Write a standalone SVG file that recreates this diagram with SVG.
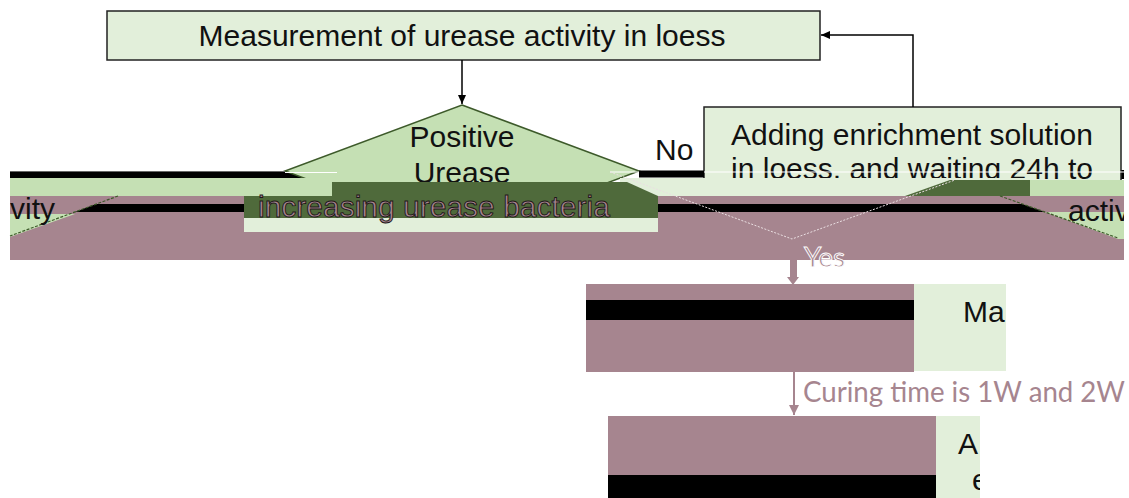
<svg xmlns="http://www.w3.org/2000/svg" width="1129" height="498" viewBox="0 0 1129 498">
<style>
.t{font-family:"Liberation Sans",Arial,sans-serif;fill:#111;font-size:30px}
.c{font-family:Lato,"Open Sans",sans-serif}
.box{fill:#e2efda;stroke:#222;stroke-width:1.5}
.lg{fill:#e2efda}
.mg{fill:#c5e0b4}
.dg{fill:#4f6a3b}
.mv{fill:#a6858f}
.bk{fill:#000}
.dash{fill:none;stroke:#3d5a2a;stroke-width:1.2;stroke-dasharray:3 1.5}
</style>
<defs>
<marker id="ab" markerWidth="10" markerHeight="10" refX="9" refY="5" orient="auto" markerUnits="userSpaceOnUse"><path d="M0,1 L9,5 L0,9 z" fill="#000"/></marker>
<marker id="am" markerWidth="12" markerHeight="12" refX="10" refY="6" orient="auto" markerUnits="userSpaceOnUse"><path d="M0,1 L10,6 L0,11 z" fill="#a6858f"/></marker>
<clipPath id="c182"><rect x="0" y="0" width="1129" height="182"/></clipPath>
<clipPath id="c180"><rect x="0" y="0" width="1129" height="180"/></clipPath>
<clipPath id="cR"><rect x="10" y="0" width="1114" height="498"/></clipPath>
<clipPath id="cMa"><rect x="914" y="284" width="92" height="88"/></clipPath>
<clipPath id="cA"><rect x="936" y="416" width="44" height="82"/></clipPath>
</defs>

<g id="band-top">
<rect class="bk" x="10" y="172" width="300" height="6"/>
<rect class="bk" x="1118" y="170" width="6" height="9"/>
</g>

<g id="node-measurement">
<rect class="box" x="107" y="11" width="713" height="49"/>
<text class="t" x="462" y="46" text-anchor="middle" font-size="30.5">Measurement of urease activity in loess</text>
</g>

<g id="node-decision" clip-path="url(#c182)">
<polygon points="462,105 639,171 462,237 285,171" fill="#c5e0b4" stroke="#3d5a2a" stroke-width="1.5"/>
<text class="t" x="462" y="147" text-anchor="middle">Positive</text>
<text class="t" x="462" y="183" text-anchor="middle">Urease</text>
</g>

<g id="node-enrichment" clip-path="url(#c180)">
<rect class="box" x="704" y="107" width="417" height="90"/>
<text class="t" x="912" y="145" text-anchor="middle">Adding enrichment solution</text>
<text class="t" x="912" y="179" text-anchor="middle">in loess, and waiting 24h to</text>
</g>

<g id="glitch-lines">
<line x1="10" y1="171.5" x2="285" y2="171.5" stroke="#666" stroke-width="1"/>
<line x1="285" y1="172.5" x2="337" y2="172.5" stroke="#fff" stroke-width="1.2"/>
<line x1="610" y1="172" x2="1124" y2="172" stroke="#fff" stroke-width="1.2"/>
</g>

<g id="glitch-band">
<rect class="mg" x="10" y="178" width="322" height="18"/>
<rect class="lg" x="620" y="178" width="410" height="18"/>
<polygon class="dg" points="332,182 627,182 658,196 332,196"/>
<polygon class="dg" points="950,180 1030,180 1030,196 905,196"/>
<rect class="mg" x="1030" y="180" width="94" height="16"/>
<rect class="mv" x="10" y="196" width="1114" height="64"/>
<polygon class="bk" points="96,204 244,204 244,212 75,212"/>
<polygon class="bk" points="658,204 1022,204 1045,212 658,212"/>
<polygon class="mg" points="10,214 75,214 10,237"/>
<polygon class="mg" points="1045,212 1124,212 1124,239 1118,239"/>
<line class="dash" x1="118" y1="196" x2="10" y2="236"/>
<line class="dash" x1="1000" y1="196" x2="1118" y2="238"/>
<polyline points="610,172 792,239 955,180" fill="none" stroke="#eadfe2" stroke-width="1" stroke-dasharray="2 1.5"/>
<g clip-path="url(#cR)">
<text class="t" x="10" y="219">vity</text>
<text class="t" x="1068" y="221">activ</text>
</g>
</g>

<g id="node-increasing">
<rect class="dg" x="244" y="196" width="414" height="22"/>
<rect class="lg" x="244" y="218" width="414" height="14"/>
<text x="258" y="217" font-family="Liberation Sans, Arial, sans-serif" font-size="30" fill="#a6858f" stroke="#1e1618" stroke-width="0.9">increasing urease bacteria</text>
</g>

<g id="node-ma">
<rect class="mv" x="586" y="284" width="328" height="88"/>
<rect class="bk" x="586" y="300" width="328" height="20"/>
<rect class="lg" x="914" y="284" width="92" height="87"/>
<g clip-path="url(#cMa)"><text class="t" x="963" y="322">Ma</text></g>
</g>

<g id="node-a">
<rect class="mv" x="608" y="416" width="328" height="82"/>
<rect class="bk" x="608" y="475" width="328" height="23"/>
<rect class="lg" x="936" y="416" width="44" height="82"/>
<g clip-path="url(#cA)"><text class="t" x="958" y="454">A</text><text class="t" x="972" y="490">e</text></g>
</g>

<g id="connectors">
<line x1="462" y1="60" x2="462" y2="104" stroke="#000" stroke-width="1.5" marker-end="url(#ab)"/>
<polyline points="913,107 913,35 821,35" fill="none" stroke="#000" stroke-width="1.5" marker-end="url(#ab)"/>
<line x1="639" y1="174" x2="704" y2="174" stroke="#000" stroke-width="7"/>
<text class="t" x="655" y="160" font-size="27">No</text>
<rect class="mv" x="790" y="258" width="7" height="20"/>
<polygon class="mv" points="787,277 799,277 793,285"/>
<text class="c" x="804" y="267" font-size="27" fill="#a6858f" stroke="#fff" stroke-width="0.9" textLength="41" lengthAdjust="spacingAndGlyphs">Yes</text>
<line x1="794" y1="372" x2="794" y2="415" stroke="#a6858f" stroke-width="2" marker-end="url(#am)"/>
<text class="c" x="803" y="402" font-size="28" fill="#a6858f" textLength="322" lengthAdjust="spacingAndGlyphs">Curing time is 1W and 2W</text>
</g>
</svg>
